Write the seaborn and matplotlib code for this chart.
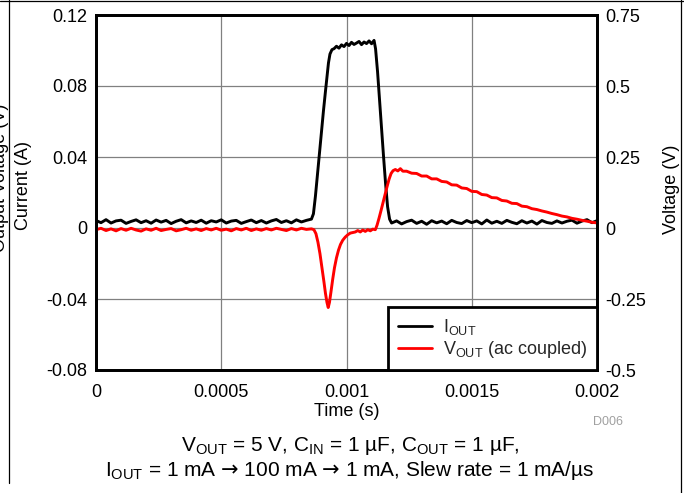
import numpy as np
import pandas as pd
import matplotlib
matplotlib.use("Agg")
import matplotlib.pyplot as plt
import seaborn as sns
from matplotlib.lines import Line2D

# ---------------- data ----------------
# I_OUT trace, time in microseconds, current in A
i_time_us = [
    0, 20, 40, 60, 80, 100, 120, 140, 160, 180, 200, 220, 240, 260, 280, 300,
    320, 340, 360, 380, 400, 420, 440, 460, 480, 500, 520, 540, 560, 580, 600,
    620, 640, 660, 680, 700, 720, 740, 760, 780, 800, 820, 840, 860,
    868, 876, 884, 892, 900, 908, 916, 922, 928, 934, 942,
    950, 960, 970, 980, 990, 1000, 1010, 1020, 1030, 1040, 1050, 1060, 1070,
    1080, 1090, 1100, 1110,
    1116, 1124, 1132, 1140, 1148, 1156, 1164, 1172,
    1180, 1200, 1220, 1240, 1260, 1280, 1300, 1320, 1340, 1360, 1380, 1400,
    1420, 1440, 1460, 1480, 1500, 1520, 1540, 1560, 1580, 1600, 1620, 1640,
    1660, 1680, 1700, 1720, 1740, 1760, 1780, 1800, 1820, 1840, 1860, 1880,
    1900, 1920, 1940, 1960, 1980, 2000,
]
i_out = [
    0.0042, 0.0030, 0.0047, 0.0028, 0.0040, 0.0044, 0.0026, 0.0037, 0.0046, 0.0030,
    0.0041, 0.0027, 0.0045, 0.0033, 0.0043, 0.0025, 0.0038, 0.0047, 0.0029, 0.0040,
    0.0031, 0.0044, 0.0027, 0.0041, 0.0034, 0.0046, 0.0028, 0.0039, 0.0043, 0.0026,
    0.0036, 0.0045, 0.0030, 0.0042, 0.0028, 0.0040, 0.0048, 0.0031, 0.0041, 0.0029,
    0.0046, 0.0034, 0.0043, 0.0050,
    0.0080, 0.0180, 0.0300, 0.0420, 0.0540, 0.0660, 0.0770, 0.0850, 0.0930, 0.0980, 0.1005,
    0.1010, 0.1024, 0.1013, 0.1032, 0.1022, 0.1040, 0.1028, 0.1046, 0.1034, 0.1042,
    0.1051, 0.1033, 0.1048, 0.1039, 0.1054, 0.1038, 0.1057,
    0.1010, 0.0880, 0.0720, 0.0560, 0.0400, 0.0250, 0.0120, 0.0050,
    0.0028, 0.0040, 0.0023, 0.0036, 0.0044, 0.0026, 0.0038, 0.0021, 0.0041, 0.0029,
    0.0039, 0.0024, 0.0043, 0.0031, 0.0025, 0.0042, 0.0030, 0.0040, 0.0023, 0.0045,
    0.0027, 0.0038, 0.0026, 0.0043, 0.0032, 0.0024, 0.0041, 0.0028, 0.0039, 0.0022,
    0.0042, 0.0031, 0.0026, 0.0040, 0.0028, 0.0038, 0.0044, 0.0027, 0.0039, 0.0047,
    0.0030, 0.0041,
]

# V_OUT (ac coupled) trace, time in microseconds, voltage in V
v_time_us = [
    0, 20, 40, 60, 80, 100, 120, 140, 160, 180, 200, 220, 240, 260, 280, 300,
    320, 340, 360, 380, 400, 420, 440, 460, 480, 500, 520, 540, 560, 580, 600,
    620, 640, 660, 680, 700, 720, 740, 760, 780, 800, 820, 840, 860,
    870, 878, 886, 894, 902, 910, 916, 922, 927, 932, 938, 945, 952, 960, 968,
    976, 985, 995, 1005, 1015, 1025,
    1035, 1045, 1055, 1065, 1075, 1085, 1095, 1105, 1115,
    1122, 1130, 1138, 1146, 1154, 1162, 1170, 1178, 1186, 1195, 1205, 1215, 1225,
    1240, 1260, 1280, 1300, 1320, 1340, 1360, 1380, 1400, 1420, 1440, 1460,
    1480, 1500, 1520, 1540, 1560, 1580, 1600, 1620, 1640, 1660, 1680, 1700,
    1720, 1740, 1760, 1780, 1800, 1820, 1840, 1860, 1880, 1900, 1920, 1940,
    1960, 1980, 2000,
]
v_out = [
    -0.006, -0.001, -0.009, -0.003, -0.010, -0.002, -0.008, -0.001, -0.007, -0.011,
    -0.003, -0.008, -0.001, -0.009, -0.005, -0.002, -0.010, -0.006, -0.001, -0.008,
    -0.003, -0.009, -0.002, -0.007, -0.001, -0.008, -0.004, -0.010, -0.002, -0.007,
    -0.001, -0.009, -0.003, -0.008, -0.002, -0.007, -0.001, -0.005, -0.009, -0.002,
    -0.007, -0.001, -0.005, -0.003,
    -0.006, -0.020, -0.050, -0.090, -0.140, -0.190, -0.230, -0.262, -0.280, -0.262,
    -0.225, -0.180, -0.140, -0.105, -0.078, -0.058, -0.043, -0.032, -0.024, -0.018,
    -0.016,
    -0.014, -0.009, -0.014, -0.007, -0.012, -0.006, -0.010, -0.004, -0.006,
    0.010, 0.035, 0.062, 0.090, 0.118, 0.146, 0.172, 0.192, 0.202, 0.206, 0.201,
    0.209, 0.200,
    0.200, 0.193, 0.192, 0.183, 0.183, 0.173, 0.173, 0.164, 0.162, 0.152, 0.151,
    0.141, 0.139, 0.129, 0.128, 0.118, 0.116, 0.107, 0.106, 0.097, 0.095, 0.087,
    0.086, 0.077, 0.075, 0.068, 0.065, 0.060, 0.056, 0.051, 0.047, 0.042, 0.039,
    0.034, 0.031, 0.027, 0.024, 0.020, 0.018,
]

x_ticks = [0, 0.0005, 0.001, 0.0015, 0.002]
x_tick_labels = ["0", "0.0005", "0.001", "0.0015", "0.002"]
i_ticks = [-0.08, -0.04, 0, 0.04, 0.08, 0.12]
i_tick_labels = ["-0.08", "-0.04", "0", "0.04", "0.08", "0.12"]
v_ticks = [-0.5, -0.25, 0, 0.25, 0.5, 0.75]
v_tick_labels = ["-0.5", "-0.25", "0", "0.25", "0.5", "0.75"]

series_labels = [r"I$_{\mathregular{OUT}}$", r"V$_{\mathregular{OUT}}$ (ac coupled)"]
ARROW = r"$\mathsf{→}$"
caption_1 = r"V$_{\mathregular{OUT}}$ = 5 V, C$_{\mathregular{IN}}$ = 1 µF, C$_{\mathregular{OUT}}$ = 1 µF,"
caption_2 = (r"I$_{\mathregular{OUT}}$ = 1 mA " + ARROW + " 100 mA " + ARROW
             + " 1 mA, Slew rate = 1 mA/µs")

# ---------------- style ----------------
sns.set_theme(style="white")
plt.rcParams["font.family"] = ["Liberation Sans", "DejaVu Sans"]
plt.rcParams["mathtext.fontset"] = "custom"
plt.rcParams["mathtext.rm"] = "Liberation Sans"
plt.rcParams["mathtext.it"] = "Liberation Sans:italic"
plt.rcParams["mathtext.bf"] = "Liberation Sans:bold"
plt.rcParams["mathtext.sf"] = "DejaVu Sans"
plt.rcParams["axes.unicode_minus"] = False

W, H = 684, 493
fig = plt.figure(figsize=(W / 100, H / 100), dpi=100)
fig.patch.set_facecolor("white")

L, R, T, B = 96, 597, 15, 370
ax = fig.add_axes([L / W, 1 - B / H, (R - L) / W, (B - T) / H])
ax2 = ax.twinx()

i_df = pd.DataFrame({"t": np.array(i_time_us) * 1e-6, "I": i_out})
v_df = pd.DataFrame({"t": np.array(v_time_us) * 1e-6, "V": v_out})

sns.lineplot(data=i_df, x="t", y="I", ax=ax, color="black", linewidth=2.1,
             estimator=None, sort=False, legend=False)
sns.lineplot(data=v_df, x="t", y="V", ax=ax2, color="#ff0000", linewidth=2.1,
             estimator=None, sort=False, legend=False)

ax.set_xlim(0, 0.002)
ax.set_ylim(-0.08, 0.12)
ax2.set_ylim(-0.5, 0.75)

FS = 13
ax.set_xticks(x_ticks)
ax.set_xticklabels(x_tick_labels)
ax.set_yticks(i_ticks)
ax.set_yticklabels(i_tick_labels)
ax2.set_yticks(v_ticks)
ax2.set_yticklabels(v_tick_labels)

ax.tick_params(axis="both", length=0, labelsize=FS, colors="black")
ax.tick_params(axis="y", pad=6.5)
ax.tick_params(axis="x", pad=10)
ax2.tick_params(axis="y", length=0, labelsize=FS, pad=6, colors="black")

ax.grid(True, color="#808080", linewidth=0.9)
ax2.grid(False)

for a in (ax, ax2):
    for s in a.spines.values():
        s.set_color("black")
        s.set_linewidth(2.0)

ax.set_xlabel("Time (s)", fontsize=FS, color="black")
ax.set_ylabel("Current (A)", fontsize=FS, color="black")
ax2.set_ylabel("Voltage (V)", fontsize=FS, color="black")
ax.xaxis.set_label_coords(0.5, (B - 403) / (B - T))
ax.yaxis.set_label_coords((24 - L) / (R - L), (B - 185) / (B - T))
ax2.yaxis.set_label_coords((672 - L) / (R - L), (B - 189) / (B - T))
ax.yaxis.label.set_va("center")
ax2.yaxis.label.set_va("center")

handles = [Line2D([], [], color="black", linewidth=2.0),
           Line2D([], [], color="#ff0000", linewidth=2.0)]
leg = ax2.legend(handles, series_labels, loc="lower right", bbox_to_anchor=(1, 0),
                 borderaxespad=0, frameon=True, fancybox=False, framealpha=1,
                 edgecolor="black", fontsize=FS, handlelength=1.9,
                 handletextpad=0.6, labelspacing=0.1, borderpad=0.55)
leg.get_frame().set_linewidth(2.0)

# caption and note
CFS = 15
cx = 350 / W
fig.text(cx, 1 - 451 / H, caption_1, ha="center", va="baseline", fontsize=CFS, color="black")
fig.text(cx, 1 - 476 / H, caption_2, ha="center", va="baseline", fontsize=CFS, color="black")
fig.text(608 / W, 1 - 422 / H, "D006", ha="center", va="center", fontsize=9, color="#a0a0a0")

# partially visible label at the left edge (cut off in the reference)
fig.text(5 / W, 1 - 178 / H, "Output Voltage (V)", rotation=90, rotation_mode="anchor",
         ha="center", va="baseline", fontsize=FS, color="black")

# page frame lines
fig.add_artist(Line2D([8.5 / W, 8.5 / W], [1 - 483 / H, 1], transform=fig.transFigure,
                      color="black", linewidth=0.9))
fig.add_artist(Line2D([680.5 / W, 680.5 / W], [0, 1], transform=fig.transFigure,
                      color="black", linewidth=0.9))
fig.add_artist(Line2D([0, 1], [1 - 0.8 / H, 1 - 0.8 / H], transform=fig.transFigure,
                      color="black", linewidth=0.9))

fig.savefig("out.png", dpi=100, facecolor="white")
